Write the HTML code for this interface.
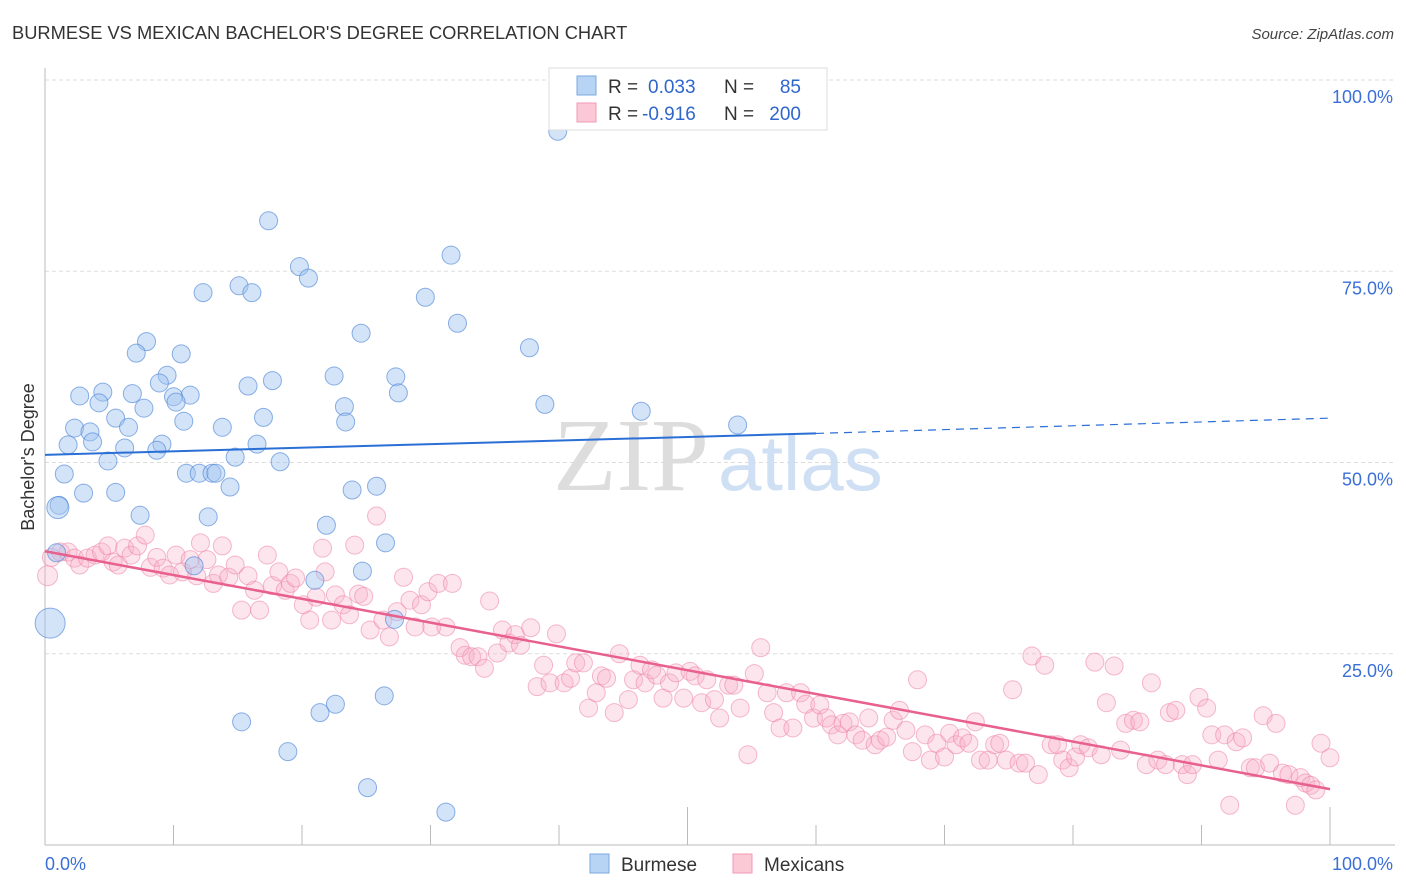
<!DOCTYPE html>
<html><head><meta charset="utf-8">
<style>
body{margin:0;background:#fff;font-family:"Liberation Sans",sans-serif;}
svg{display:block}
</style></head>
<body>
<svg id="chart" width="1406" height="892" xmlns="http://www.w3.org/2000/svg">
<text x="12" y="39" font-size="18.3" fill="#333">BURMESE VS MEXICAN BACHELOR'S DEGREE CORRELATION CHART</text>
<text x="1394" y="39" font-size="15" font-style="italic" fill="#444" text-anchor="end">Source: ZipAtlas.com</text>
<g id="grid"></g>
<text x="553" y="490" font-size="104" font-family="Liberation Serif,serif" fill="#ddd">ZIP</text>
<text x="718" y="490" font-size="78" fill="#cfdff4">atlas</text>
<g id="axes"></g>
<g id="pts"></g>
<g id="trends"></g>
<text transform="translate(34,457) rotate(-90)" font-size="18" fill="#333" text-anchor="middle">Bachelor's Degree</text>
<g>
<rect x="549" y="68" width="278" height="62" fill="#fff" stroke="#ddd"/>
<rect x="577" y="76" width="19" height="19" fill="#b8d4f4" stroke="#7aa8e0"/>
<rect x="577" y="103" width="19" height="19" fill="#fbc8d6" stroke="#f09ab6"/>
<text x="608" y="93" font-size="19" fill="#333">R =</text><text x="648" y="93" font-size="19" fill="#2f66cc">0.033</text>
<text x="724" y="93" font-size="19" fill="#333">N =</text><text x="801" y="93" font-size="19" fill="#2f66cc" text-anchor="end">85</text>
<text x="608" y="120" font-size="19" fill="#333">R =</text><text x="642" y="120" font-size="19" fill="#2f66cc">-0.916</text>
<text x="724" y="120" font-size="19" fill="#333">N =</text><text x="801" y="120" font-size="19" fill="#2f66cc" text-anchor="end">200</text>
</g>
<g>
<rect x="590" y="854" width="19" height="19" fill="#b8d4f4" stroke="#7aa8e0"/>
<text x="621" y="871" font-size="19" fill="#333">Burmese</text>
<rect x="733" y="854" width="19" height="19" fill="#fbc8d6" stroke="#f09ab6"/>
<text x="764" y="871" font-size="19" fill="#333">Mexicans</text>
</g>
</svg>
<script>
const yTicks=[25,50,75,100];
const yTickLabels=["25.0%","50.0%","75.0%","100.0%"];
const xTicks=[0,10,20,30,40,50,60,70,80,90,100];
const burmeseX=[39.9,17.4,31.6,19.8,20.5,15.1,12.3,16.1,29.6,32.1,24.6,7.9,37.7,7.1,10.6,9.5,22.5,27.3,17.7,8.9,15.8,2.7,4.5,6.8,11.3,27.5,10.0,10.2,4.2,7.7,38.9,23.3,46.4,5.5,17.0,10.8,23.4,6.5,13.8,2.3,3.5,3.7,1.8,6.2,9.1,16.5,53.9,8.7,14.8,4.9,18.3,1.5,11.0,12.0,13.0,13.3,14.4,25.8,23.9,3.0,5.5,1.1,7.4,12.7,21.9,26.5,0.9,11.6,24.7,21.0,27.2,22.6,21.4,26.4,15.3,18.9,25.1,31.2,1.0,0.4];
const burmeseY=[93.3,81.6,77.1,75.6,74.1,73.1,72.2,72.2,71.6,68.2,66.9,65.8,65.0,64.3,64.2,61.4,61.3,61.2,60.7,60.4,60.0,58.7,59.2,59.0,58.8,59.1,58.6,57.9,57.8,57.1,57.6,57.3,56.7,55.8,55.9,55.4,55.3,54.6,54.6,54.5,54.0,52.7,52.3,51.9,52.4,52.4,54.9,51.6,50.7,50.2,50.1,48.5,48.6,48.6,48.6,48.6,46.8,46.9,46.4,46.0,46.1,44.4,43.1,42.9,41.8,39.5,38.2,36.5,35.8,34.6,29.5,18.4,17.3,19.5,16.1,12.2,7.5,4.3,44.1,29.0];
const burmeseR=burmeseX.map((v,i)=>i===burmeseX.length-1?15:(i===burmeseX.length-2?11:9));
const mexX=[0.2,0.5,1.2,1.8,2.3,2.7,3.3,3.9,4.4,4.9,5.3,5.7,6.2,6.7,7.2,7.8,8.2,8.7,9.2,9.7,10.2,10.7,11.3,11.8,12.1,12.6,13.1,13.5,13.8,14.3,14.8,15.3,15.8,16.3,16.7,17.3,17.7,18.2,18.7,19.1,19.5,20.1,20.6,21.1,21.6,21.8,22.3,22.6,23.2,23.7,24.1,24.4,24.8,25.3,25.8,26.3,26.8,27.4,27.9,28.4,28.8,29.3,29.8,30.1,30.6,31.2,31.7,32.3,32.7,33.2,33.7,34.2,34.6,35.2,35.6,36.1,36.6,37.0,37.8,38.3,38.8,39.3,39.8,40.4,40.9,41.3,41.9,42.3,42.9,43.3,43.7,44.3,44.7,45.4,45.8,46.3,46.7,47.2,47.6,48.1,48.6,49.1,49.7,50.2,50.6,51.1,51.5,52.1,52.5,53.2,53.6,54.1,54.7,55.2,55.7,56.2,56.7,57.2,57.7,58.2,58.8,59.2,59.8,60.3,60.8,61.2,61.7,62.1,62.6,63.1,63.6,64.1,64.6,65.0,65.5,66.0,66.5,67.0,67.5,67.9,68.5,68.9,69.4,70.0,70.4,70.9,71.4,71.9,72.4,72.8,73.4,73.9,74.3,74.8,75.3,75.8,76.3,76.8,77.3,77.8,78.3,78.8,79.2,79.7,80.2,80.6,81.2,81.7,82.2,82.6,83.2,83.7,84.1,84.7,85.2,85.7,86.1,86.6,87.2,87.5,88.0,88.5,88.9,89.3,89.8,90.4,90.8,91.3,91.8,92.2,92.7,93.2,93.8,94.2,94.8,95.3,95.8,96.3,96.8,97.3,97.7,98.1,98.5,98.9,99.3,100];
const mexY=[35.2,37.6,38.3,38.3,37.5,36.6,37.5,37.9,38.3,39.1,37.0,36.6,38.8,37.9,39.1,40.5,36.3,37.6,36.2,35.3,37.9,35.7,37.3,35.2,39.5,37.3,34.2,35.3,39.1,35.0,36.6,30.7,35.2,33.3,30.7,37.9,33.9,35.7,33.3,34.2,34.9,31.4,29.4,32.4,38.8,35.7,29.4,32.7,31.4,30.1,39.2,32.8,32.5,28.1,43.0,29.4,27.2,30.5,35.0,32.0,28.5,31.4,33.1,28.5,34.2,28.5,34.2,25.8,24.8,24.6,24.6,23.1,31.9,25.1,28.1,26.4,27.5,26.1,28.4,20.7,23.5,21.2,27.6,21.2,21.8,23.8,23.8,17.9,19.9,22.1,21.8,17.3,25.0,19.0,21.6,23.5,21.2,22.9,22.2,19.2,21.2,22.5,19.2,22.7,22.1,18.6,21.6,19.0,16.6,20.9,20.9,17.9,11.8,22.4,25.8,19.9,17.3,15.3,19.9,15.3,19.9,18.4,16.6,18.3,16.6,15.7,14.4,15.9,16.1,14.4,13.7,16.6,13.1,13.7,14.1,16.3,17.6,15.0,12.2,21.6,14.4,11.1,13.3,11.5,14.6,13.1,14.0,13.3,16.1,11.1,11.1,13.1,13.3,11.1,20.3,10.7,10.7,24.7,9.2,23.5,13.1,13.1,11.1,10.1,11.5,13.1,12.7,23.9,11.8,18.6,23.4,12.4,15.9,16.3,16.1,10.5,21.2,11.1,10.5,17.3,17.6,10.5,9.2,10.5,19.3,17.9,14.4,11.1,14.4,5.2,13.5,14.0,10.1,10.1,16.9,10.7,15.9,9.4,9.2,5.2,8.8,8.1,7.8,7.2,13.3,11.4];
const burmeseTrend=[51.0,53.8,55.8]; // at x=0, 60, 100
const mexTrend=[38.4,7.3]; // at x=0, 100

const X0=45,X1=1330,Y0=845,Y100=80;
const sx=v=>X0+(X1-X0)*v/100;
const sy=v=>Y0-(Y0-Y100)*v/100;
const NS="http://www.w3.org/2000/svg";
function mk(tag,attrs,parent){const e=document.createElementNS(NS,tag);for(const k in attrs)e.setAttribute(k,attrs[k]);parent.appendChild(e);return e;}
const grid=document.getElementById('grid'),axes=document.getElementById('axes'),pts=document.getElementById('pts'),tr=document.getElementById('trends');
yTicks.forEach((t,i)=>{
  const l=mk('line',{x1:X0,x2:1395,y1:sy(t),y2:sy(t),stroke:'#ddd','stroke-dasharray':'4,3'},grid);
  
  
  const tx=mk('text',{x:1393,y:sy(t)+23,'font-size':18,fill:'#3a6fd8','text-anchor':'end'},axes);
  tx.textContent=yTickLabels[i];
  
  
});
const ax=mk('line',{x1:X0,x2:1395,y1:Y0,y2:Y0,stroke:'#bbb'},axes);


const ay=mk('line',{x1:X0,x2:X0,y1:68,y2:Y0,stroke:'#bbb'},axes);


xTicks.forEach(t=>{
  const big=(t===50||t===100);
  const l=mk('line',{x1:sx(t),x2:sx(t),y1:big?807:825,y2:Y0,stroke:'#bbb'},axes);
  
  
});
const xl0=mk('text',{x:45,y:870,'font-size':18,fill:'#3a6fd8'},axes);xl0.textContent='0.0%';


const xl1=mk('text',{x:1393,y:870,'font-size':18,fill:'#3a6fd8','text-anchor':'end'},axes);xl1.textContent='100.0%';


mexX.forEach((v,i)=>{
  const c=mk('circle',{cx:sx(v),cy:sy(mexY[i]),r:i===0?10:9,fill:'rgba(248,175,198,0.32)',stroke:'rgba(236,130,165,0.55)','stroke-width':1},pts);
  
  
});
burmeseX.forEach((v,i)=>{
  const c=mk('circle',{cx:sx(v),cy:sy(burmeseY[i]),r:burmeseR[i],fill:'rgba(160,196,240,0.45)',stroke:'rgba(80,135,215,0.65)','stroke-width':1},pts);
  
  
});
const b1=mk('line',{x1:sx(0),y1:sy(burmeseTrend[0]),x2:sx(60),y2:sy(burmeseTrend[1]),stroke:'#2a6fd6','stroke-width':2},tr);


const b2=mk('line',{x1:sx(60),y1:sy(burmeseTrend[1]),x2:sx(100),y2:sy(burmeseTrend[2]),stroke:'#2a6fd6','stroke-width':1.2,'stroke-dasharray':'8,6'},tr);


const m1=mk('line',{x1:sx(0),y1:sy(mexTrend[0]),x2:sx(100),y2:sy(mexTrend[1]),stroke:'#e8608e','stroke-width':2.5},tr);


</script>
</body></html>
